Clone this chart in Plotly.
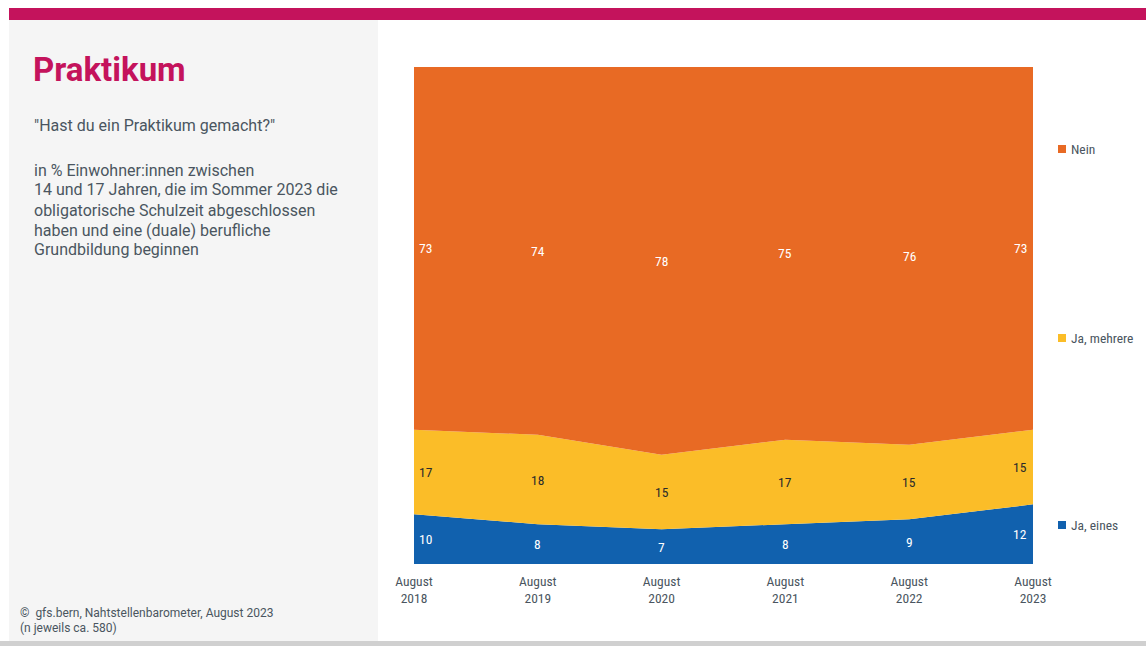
import plotly.graph_objects as go

# Survey waves and shares (in %)
waves = ["August<br>2018", "August<br>2019", "August<br>2020",
         "August<br>2021", "August<br>2022", "August<br>2023"]
ja_eines = [10, 8, 7, 8, 9, 12]
ja_mehrere = [17, 18, 15, 17, 15, 15]
nein = [73, 74, 78, 75, 76, 73]

series = [
    ("Ja, eines", ja_eines, "#1161AE", "#FFFFFF"),
    ("Ja, mehrere", ja_mehrere, "#FBBD28", "#2B2B2B"),
    ("Nein", nein, "#E86A24", "#FFFFFF"),
]

W, H = 1146, 646
L, R, T, B = 414, 1033, 67, 564  # plot area in pixels


def px(x):
    return (x - L) / (R - L)


def py(y):
    return (B - y) / (B - T)


xs = list(range(len(waves)))
fig = go.Figure()

for name, vals, color, _ in series:
    fig.add_trace(go.Scatter(
        x=xs, y=vals, name=name, mode="none", stackgroup="one",
        fillcolor=color, line=dict(width=0), hoverinfo="x+y+name",
    ))

TEXT = "#4A5560"
FONT = "Roboto, 'Open Sans', sans-serif"
NARROW = "'Liberation Sans Narrow', 'Roboto Condensed', Roboto, sans-serif"

annotations = []
# value labels centred in each band
base = [0] * len(xs)
for name, vals, color, tcolor in series:
    for i, v in enumerate(vals):
        mid = base[i] + v / 2
        if i == 0:
            xa, xs_shift = "left", 3
        elif i == len(xs) - 1:
            xa, xs_shift = "right", -4
        else:
            xa, xs_shift = "center", 0
        annotations.append(dict(
            x=xs[i], y=mid, xref="x", yref="y", text=str(v), showarrow=False,
            xanchor=xa, xshift=xs_shift, yanchor="middle",
            font=dict(family=NARROW, size=13.5, color=tcolor),
        ))
    base = [b + v for b, v in zip(base, vals)]

# legend entries on the right
legend_pos = [("Nein", "#E86A24", 149), ("Ja, mehrere", "#FBBD28", 338),
              ("Ja, eines", "#1161AE", 525)]
shapes = []
for name, color, y in legend_pos:
    shapes.append(dict(type="rect", xref="paper", yref="paper",
                       x0=px(1058), x1=px(1066), y0=py(y + 4), y1=py(y - 4),
                       fillcolor=color, line=dict(width=0), layer="above"))
    annotations.append(dict(x=px(1069), y=py(y), xref="paper", yref="paper",
                            text=name, showarrow=False, xanchor="left",
                            yanchor="middle",
                            font=dict(family=NARROW, size=13.5, color=TEXT)))

# page frame: top accent bar, grey side panel, bottom strip
shapes += [
    dict(type="rect", xref="paper", yref="paper", x0=px(9), x1=px(W),
         y0=py(20), y1=py(8), fillcolor="#C4135C", line=dict(width=0),
         layer="below"),
    dict(type="rect", xref="paper", yref="paper", x0=px(9), x1=px(378),
         y0=py(641), y1=py(20), fillcolor="#F5F5F5", line=dict(width=0),
         layer="below"),
    dict(type="rect", xref="paper", yref="paper", x0=px(0), x1=px(W),
         y0=py(H), y1=py(641), fillcolor="#D0D0D0", line=dict(width=0),
         layer="below"),
]

annotations += [
    dict(x=px(31), y=py(69), xref="paper", yref="paper", text="<b>Praktikum</b>",
         showarrow=False, xanchor="left", yanchor="middle",
         font=dict(family=FONT, size=33, color="#C4135C")),
    dict(x=px(32), y=py(125), xref="paper", yref="paper",
         text='"Hast du ein Praktikum gemacht?"', showarrow=False,
         xanchor="left", yanchor="middle",
         font=dict(family=FONT, size=16, color=TEXT)),
]

# description paragraph, one line every 20 px
desc_lines = ["in % Einwohner:innen zwischen",
              "14 und 17 Jahren, die im Sommer 2023 die",
              "obligatorische Schulzeit abgeschlossen",
              "haben und eine (duale) berufliche",
              "Grundbildung beginnen"]
for k, line in enumerate(desc_lines):
    annotations.append(dict(
        x=px(32), y=py(170 + 20 * k), xref="paper", yref="paper", text=line,
        showarrow=False, xanchor="left", yanchor="middle",
        font=dict(family=FONT, size=16, color=TEXT)))

footer_lines = ["©  gfs.bern, Nahtstellenbarometer, August 2023",
                "(n jeweils ca. 580)"]
for k, line in enumerate(footer_lines):
    annotations.append(dict(
        x=px(18), y=py(613 + 15 * k), xref="paper", yref="paper", text=line,
        showarrow=False, xanchor="left", yanchor="middle",
        font=dict(family=FONT, size=12, color=TEXT)))

fig.update_layout(
    width=W, height=H,
    margin=dict(l=L, r=W - R, t=T, b=H - B),
    paper_bgcolor="#FFFFFF", plot_bgcolor="#FFFFFF",
    showlegend=False,
    xaxis=dict(range=[0, len(xs) - 1], tickvals=xs, ticktext=waves,
               showgrid=False, zeroline=False, showline=False, ticks="",
               ticklabelstandoff=7,
               tickfont=dict(family=NARROW, size=13.5, color=TEXT),
               fixedrange=True),
    yaxis=dict(range=[0, 100], visible=False, fixedrange=True),
    shapes=shapes, annotations=annotations,
)

fig.write_html("out.html")
